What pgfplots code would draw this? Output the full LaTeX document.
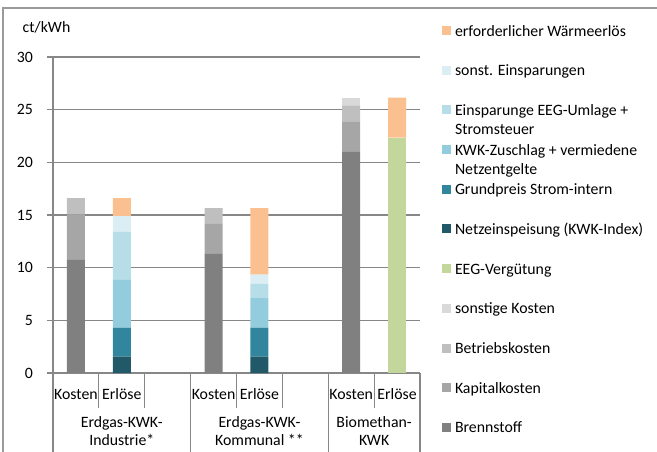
\documentclass[border=0pt]{standalone}
\usepackage{pgfplots}
\pgfplotsset{compat=1.18}
\usepackage{fontspec}
\setmainfont{Carlito}

\definecolor{gridgray}{HTML}{878787}
\definecolor{framegray}{HTML}{9A9A9A}
\definecolor{brenn}{HTML}{808080}
\definecolor{kapital}{HTML}{A6A6A6}
\definecolor{betrieb}{HTML}{BFBFBF}
\definecolor{sonstk}{HTML}{D9D9D9}
\definecolor{eegverg}{HTML}{C3D69B}
\definecolor{netz}{HTML}{215968}
\definecolor{grund}{HTML}{31859C}
\definecolor{kwkz}{HTML}{93CDDD}
\definecolor{eegein}{HTML}{B7DEE8}
\definecolor{sonsteinsp}{HTML}{DBEEF4}
\definecolor{waerme}{HTML}{FAC090}

\newcommand{\fs}{\fontsize{15.8bp}{19.5bp}\selectfont}
\newcommand{\lentry}[1]{\raisebox{0pt}[12bp][4bp]{\begin{tabular}[t]{@{}l@{}}#1\end{tabular}}}

\begin{document}
\begin{tikzpicture}[font=\fs]
\useasboundingbox (0,0) rectangle (657bp,452bp);
\draw[framegray, line width=1.2bp] (3bp,0) -- (3bp,444bp) -- (657bp,444bp);
\node[anchor=base west, inner sep=0pt] at (22.5bp,419bp) {ct/kWh};

\begin{axis}[
  at={(53bp,79bp)}, anchor=south west,
  scale only axis, width=367bp, height=316bp,
  xmin=-0.5, xmax=7.5, ymin=0, ymax=30,
  ybar stacked, bar width=18bp,
  axis lines*=left,
  axis line style={draw=gridgray, line width=1.2bp},
  ytick={0,5,...,30},
  ymajorgrids, grid style={draw=gridgray, line width=1.2bp},
  tick align=outside, major tick length=6bp,
  ytick style={draw=gridgray, line width=1.2bp},
  xtick={0,1,3,4,6,7},
  xticklabels={Kosten,Erlöse,Kosten,Erlöse,Kosten,Erlöse},
  xtick style={draw=none},
  xticklabel style={anchor=center, yshift=-15bp},
  yticklabel style={anchor=east, xshift=-10.5bp},
  /pgf/number format/assume math mode=true,
  tick label style={font=\fs},
  clip=false,
  reverse legend,
  legend style={at={(axis description cs:1.06,1.1044)}, anchor=north west,
    draw=none, fill=none, inner sep=0pt, outer sep=0pt,
    row sep=26.2bp, column sep=4bp, font=\fs,
    nodes={inner sep=0pt}},
  legend cell align=left,
  legend image code/.code={\fill[#1] (0bp,-4.2bp) rectangle (9bp,4.8bp);},
]
% Kosten (x=0,3,6) / Erloese (x=1,4,7)
\addplot[fill=brenn, draw=none] coordinates {(0,10.75) (1,0) (3,11.3) (4,0) (6,21.0) (7,0)};
\addlegendentry{\lentry{Brennstoff}}
\addplot[fill=kapital, draw=none] coordinates {(0,4.3) (1,0) (3,2.85) (4,0) (6,2.9) (7,0)};
\addlegendentry{\lentry{Kapitalkosten}}
\addplot[fill=betrieb, draw=none] coordinates {(0,1.55) (1,0) (3,1.5) (4,0) (6,1.45) (7,0)};
\addlegendentry{\lentry{Betriebskosten}}
\addplot[fill=sonstk, draw=none] coordinates {(0,0) (1,0) (3,0) (4,0) (6,0.8) (7,0)};
\addlegendentry{\lentry{sonstige Kosten}}
\addplot[fill=eegverg, draw=none] coordinates {(0,0) (1,0) (3,0) (4,0) (6,0) (7,22.35)};
\addlegendentry{\lentry{EEG-Vergütung}}
\addplot[fill=netz, draw=none] coordinates {(0,0) (1,1.55) (3,0) (4,1.55) (6,0) (7,0)};
\addlegendentry{\lentry{Netzeinspeisung (KWK-Index)}}
\addplot[fill=grund, draw=none] coordinates {(0,0) (1,2.75) (3,0) (4,2.75) (6,0) (7,0)};
\addlegendentry{\lentry{Grundpreis Strom-intern}}
\addplot[fill=kwkz, draw=none] coordinates {(0,0) (1,4.6) (3,0) (4,2.8) (6,0) (7,0)};
\addlegendentry{\lentry{KWK-Zuschlag + vermiedene\\Netzentgelte}}
\addplot[fill=eegein, draw=none] coordinates {(0,0) (1,4.5) (3,0) (4,1.35) (6,0) (7,0)};
\addlegendentry{\lentry{Einsparunge EEG-Umlage +\\Stromsteuer}}
\addplot[fill=sonsteinsp, draw=none] coordinates {(0,0) (1,1.5) (3,0) (4,0.9) (6,0) (7,0)};
\addlegendentry{\lentry{sonst. Einsparungen}}
\addplot[fill=waerme, draw=none] coordinates {(0,0) (1,1.7) (3,0) (4,6.3) (6,0) (7,3.8)};
\addlegendentry{\lentry{erforderlicher Wärmeerlös}}

% category separators below the axis
\draw[gridgray, line width=1.2bp] (axis cs:0.5,0) -- ([yshift=-35bp]axis cs:0.5,0);
\draw[gridgray, line width=1.2bp] (axis cs:1.5,0) -- ([yshift=-35bp]axis cs:1.5,0);
\draw[gridgray, line width=1.2bp] (axis cs:3.5,0) -- ([yshift=-35bp]axis cs:3.5,0);
\draw[gridgray, line width=1.2bp] (axis cs:4.5,0) -- ([yshift=-35bp]axis cs:4.5,0);
\draw[gridgray, line width=1.2bp] (axis cs:6.5,0) -- ([yshift=-35bp]axis cs:6.5,0);
\draw[gridgray, line width=1.2bp] (axis cs:-0.5,0) -- ([yshift=-80bp]axis cs:-0.5,0);
\draw[gridgray, line width=1.2bp] (axis cs:2.5,0) -- ([yshift=-80bp]axis cs:2.5,0);
\draw[gridgray, line width=1.2bp] (axis cs:5.5,0) -- ([yshift=-80bp]axis cs:5.5,0);
\draw[gridgray, line width=1.2bp] (axis cs:7.5,0) -- ([yshift=-80bp]axis cs:7.5,0);
% group labels
\node[align=center, font=\fontsize{15.8bp}{18.5bp}\selectfont] at (axis cs:1,0) [yshift=-58bp] {Erdgas-KWK-\\Industrie*};
\node[align=center, font=\fontsize{15.8bp}{18.5bp}\selectfont] at (axis cs:4,0) [yshift=-58bp] {Erdgas-KWK-\\Kommunal **};
\node[align=center, font=\fontsize{15.8bp}{18.5bp}\selectfont] at (axis cs:6.5,0) [yshift=-58bp] {Biomethan-\\KWK};
\end{axis}
\end{tikzpicture}
\end{document}
